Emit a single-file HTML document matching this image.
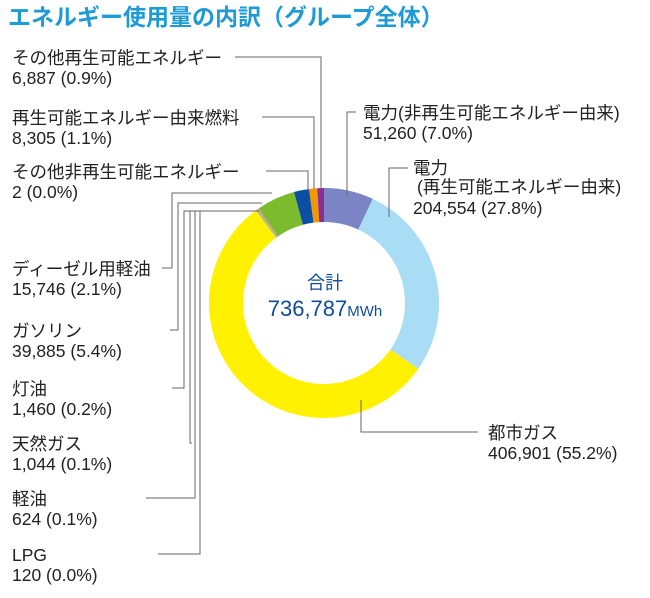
<!DOCTYPE html>
<html><head><meta charset="utf-8"><style>
body{margin:0;background:#fff;}
svg{display:block;font-family:"Liberation Sans","Noto Sans CJK JP",sans-serif;}
.l{font-size:17.5px;fill:#222;}
</style></head><body>
<svg id="c" width="650" height="598" viewBox="0 0 650 598">
<text x="8" y="25" font-size="23" font-weight="bold" fill="#1E9BD7">エネルギー使用量の内訳（グループ全体）</text>
<g id="slices"></g>
<g id="leaders" stroke="#666" stroke-width="1" fill="none"></g>
<g id="labels"></g>
<text x="325" y="289" text-anchor="middle" font-size="18" fill="#0F4C9B">合計</text>
<text x="325" y="316" text-anchor="middle" font-size="22" fill="#0F4C9B">736,787<tspan font-size="15">MWh</tspan></text>
</svg>
<script>
const categories=["電力(非再生可能エネルギー由来)","電力(再生可能エネルギー由来)","都市ガス","LPG","軽油","天然ガス","灯油","ガソリン","ディーゼル用軽油","その他非再生可能エネルギー","再生可能エネルギー由来燃料","その他再生可能エネルギー"];
const values=[51260,204554,406901,120,624,1044,1460,39885,15746,2,8305,6887];
const percents=["7.0","27.8","55.2","0.0","0.1","0.1","0.2","5.4","2.1","0.0","1.1","0.9"];
const colors=["#7B84C4","#A9DCF5","#FFF100","#E08080","#4FA8D8","#9C6","#E89","#7CBB2E","#0B4EA2","#999","#F39800","#8E2D8F"];
const cx=324,cy=303,ro=115,ri=81;
const NS="http://www.w3.org/2000/svg";
const total=values.reduce((a,b)=>a+b,0);
function pt(a,r){return [cx+r*Math.sin(a),cy-r*Math.cos(a)];}
const g=document.getElementById('slices');
let acc=0;
values.forEach((v,i)=>{
  const a0=acc/total*2*Math.PI;acc+=v;const a1=acc/total*2*Math.PI;
  const lg=(a1-a0)>Math.PI?1:0;
  const p0=pt(a0,ro),p1=pt(a1,ro),q1=pt(a1,ri),q0=pt(a0,ri);
  const p=document.createElementNS(NS,'path');
  p.setAttribute('d',`M${p0}A${ro},${ro} 0 ${lg} 1 ${p1}L${q1}A${ri},${ri} 0 ${lg} 0 ${q0}Z`);
  p.setAttribute('fill',colors[i]);
  
  
  g.appendChild(p);
});
const fmt=n=>n.toLocaleString('en-US');
const lay=[[363,119],[413,174],[488,439],[12,561],[12,505],[12,450],[12,395],[12,337],[12,275],[12,178],[12,124],[12,64]];
const L=document.getElementById('labels');
function txt(x,y,s,name){const t=document.createElementNS(NS,'text');t.setAttribute('x',x);t.setAttribute('y',y);t.setAttribute('class','l');t.textContent=s;


L.appendChild(t);}
values.forEach((v,i)=>{
  const [x,y]=lay[i];let nm=categories[i];
  if(i===1){txt(x,y,"電力",'label-name-'+i);txt(x+4,y+19,"(再生可能エネルギー由来)",'label-name2-'+i);txt(x,y+40,fmt(v)+" ("+percents[i]+"%)",'label-value-'+i);return;}
  txt(x,y,nm,'label-name-'+i);
  txt(x,y+20,fmt(v)+" ("+percents[i]+"%)",'label-value-'+i);
});
const leaders=["M347,196V112H356","M389,217V168H408","M361,400V432H478",
"M158,554H200V211H257","M146,498H195V211H257","M192,443H190V211H258","M172,388H184V211H259","M170,330H178V203H262","M162,268H172V193H272",
"M266,171H308V191","M262,117H314V189","M235,57H321V188"];
const LD=document.getElementById('leaders');
leaders.forEach((d,i)=>{const p=document.createElementNS(NS,'path');p.setAttribute('d',d);


LD.appendChild(p);});
</script>
</body></html>
